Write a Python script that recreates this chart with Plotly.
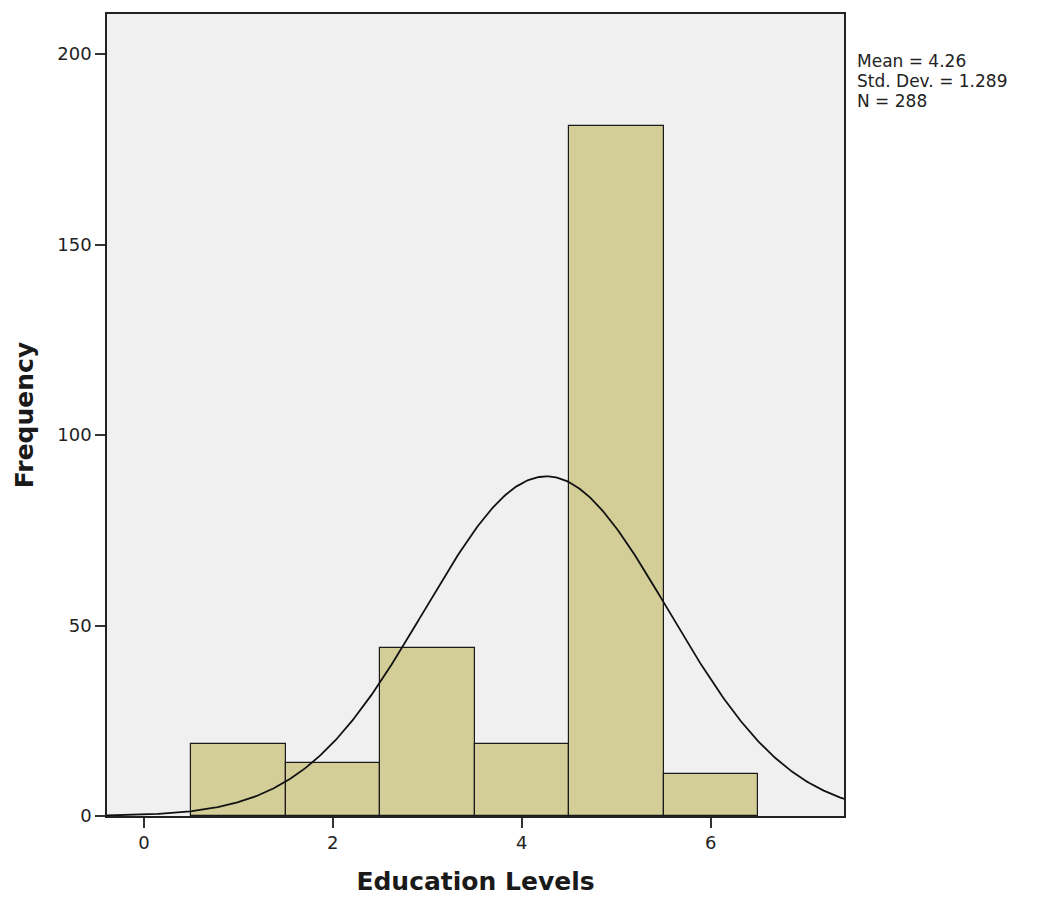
import numpy as np
import plotly.graph_objects as go

levels = [1, 2, 3, 4, 5, 6]
counts = [19, 14, 44, 19, 181, 11]
mean_val = 4.26
sd_val = 1.289
n_val = 288
x_ticks = [0, 2, 4, 6]
y_ticks = [0, 50, 100, 150, 200]
stats_lines = [f"Mean = {mean_val:.2f}", f"Std. Dev. = {sd_val}", f"N = {n_val}"]

x_range = [-0.39, 7.41]
y_range = [0, 210.5]

xs = np.linspace(x_range[0], x_range[1], 400)
ys = n_val * 1.0 / (sd_val * np.sqrt(2 * np.pi)) * np.exp(-0.5 * ((xs - mean_val) / sd_val) ** 2)

fig = go.Figure()
fig.add_trace(go.Bar(
    x=levels, y=counts, width=1.0,
    marker=dict(color="#d3cd97", line=dict(color="#1a1a1a", width=1.2)),
    hoverinfo="x+y",
))
fig.add_trace(go.Scatter(
    x=xs, y=ys, mode="lines",
    line=dict(color="#111111", width=1.8),
    hoverinfo="skip",
))

font_family = "DejaVu Sans, Open Sans, sans-serif"
plot_h = 804.0
line_offsets = [47, 67, 87]
annotations = []
for txt, off in zip(stats_lines, line_offsets):
    annotations.append(dict(
        xref="paper", yref="paper", x=1.0, y=1 - off / plot_h,
        xshift=12, xanchor="left", yanchor="middle", align="left", showarrow=False,
        borderpad=0,
        text=txt, font=dict(size=17, family=font_family, color="#222222"),
    ))

fig.update_layout(
    width=1039, height=897,
    margin=dict(l=99, r=203, t=4, b=89),
    paper_bgcolor="white",
    plot_bgcolor="#f0f0f0",
    showlegend=False,
    bargap=0,
    font=dict(family=font_family, color="#222222", size=18),
    xaxis=dict(
        range=x_range, tickvals=x_ticks, ticks="outside", ticklen=10, tickwidth=1.5,
        tickcolor="#333333", showgrid=False, zeroline=False,
        showline=True, linecolor="#222222", linewidth=1.5, mirror=True,
        title=dict(text="<b>Education Levels</b>", font=dict(size=25, color="#1a1a1a"), standoff=20),
        tickfont=dict(size=18),
    ),
    yaxis=dict(
        range=y_range, tickvals=y_ticks, ticks="outside", ticklen=10, tickwidth=1.5,
        tickcolor="#333333", showgrid=False, zeroline=False,
        showline=True, linecolor="#222222", linewidth=1.5, mirror=True,
        title=dict(text="<b>Frequency</b>", font=dict(size=25, color="#1a1a1a"), standoff=17),
        tickfont=dict(size=18),
    ),
    annotations=annotations,
)

fig.write_html("out.html")
